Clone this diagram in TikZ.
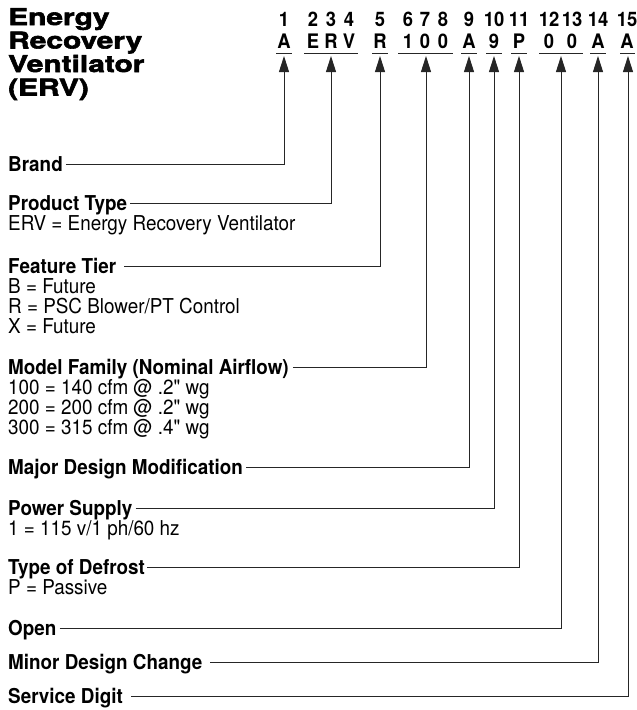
\documentclass[tikz,border=0pt]{standalone}
\usepackage{fontspec}
\setmainfont{TeX Gyre Heros}[Ligatures=TeXOff]
\newfontfamily\condfont[FakeStretch=0.92,Ligatures=TeXOff]{TeX Gyre Heros}
\newfontfamily\titlefont[FakeStretch=1.3,BoldFeatures={FakeBold=2.5}]{TeX Gyre Heros}
\usetikzlibrary{arrows.meta,calc}
\begin{document}
\begin{tikzpicture}[x=1pt,y=-1pt,
  lab/.style={anchor=base west, inner sep=0pt, font=\condfont\fontsize{20.5}{20}\selectfont\bfseries},
  sub/.style={anchor=base west, inner sep=0pt, font=\condfont\fontsize{20.5}{20}\selectfont},
  code/.style={anchor=base, inner sep=0pt, font=\condfont\fontsize{20}{20}\selectfont\bfseries},
  ttl/.style={anchor=base west, inner sep=0pt, font=\titlefont\fontsize{23}{23.5}\selectfont\bfseries},
  conn/.style={draw=black!85, line width=0.9pt, -{Triangle[length=16pt,width=10pt]}},
  uline/.style={draw=black!85, line width=0.9pt}]
\useasboundingbox (0,0) rectangle (637,710);
% title
\node[ttl] (title1) at (8,25) {Energy};
\node[ttl] (title2) at (8,48.5) {Recovery};
\node[ttl] (title3) at (8,72) {Ventilator};
\node[ttl] (title4) at (8,95.5) {(ERV)};
% digit positions
\foreach \x/\t [count=\i] in {284/1,313/2,331/3,349/4,380/5,408/6,425/7,443/8,469/9,494/10,519/11,549/12,572/13,598/14,627/15}
  \node[code] (d\i) at (\x,26) {\t};
% code letters
\foreach \x/\t [count=\i] in {284/A,313/E,331/R,349/V,380/R,408/1,425/0,443/0,469/A,494/9,519/P,549/0,572/0,598/A,627/A}
  \node[code] (c\i) at (\x,48) {\t};
% underlines
\foreach \a/\b in {276/292,304/358,372/388,398/453,461/477,486/502,511/527,539/583,590/606,620/635}
  \draw[uline] (\a,53.5) -- (\b,53.5);
% arrow tips
\foreach \n/\x in {1/284,2/331,3/380,4/426,5/469,6/494,7/519,8/561,9/598,10/628}
  \coordinate (t\n) at (\x,56);
% labels
\node[lab] (brand) at (8,171) {Brand};
\node[lab] (ptype) at (8,210) {Product Type};
\node[sub] (ptype1) at (8,230) {ERV = Energy Recovery Ventilator};
\node[lab] (tier) at (8,273) {Feature Tier};
\node[sub] (tier1) at (8,293) {B = Future};
\node[sub] (tier2) at (8,313) {R = PSC Blower/PT Control};
\node[sub] (tier3) at (8,333) {X = Future};
\node[lab] (model) at (8,374) {Model Family (Nominal Airflow)};
\node[sub] (model1) at (8,394) {100 = 140 cfm @ .2" wg};
\node[sub] (model2) at (8,414) {200 = 200 cfm @ .2" wg};
\node[sub] (model3) at (8,434) {300 = 315 cfm @ .4" wg};
\node[lab] (major) at (8,474) {Major Design Modification};
\node[lab] (power) at (8,515) {Power Supply};
\node[sub] (power1) at (8,535) {1 = 115 v/1 ph/60 hz};
\node[lab] (defrost) at (8,574) {Type of Defrost};
\node[sub] (defrost1) at (8,594) {P = Passive};
\node[lab] (open) at (8,635) {Open};
\node[lab] (minor) at (8,669) {Minor Design Change};
\node[lab] (service) at (8,703) {Service Digit};
% connectors
\draw[conn] ($(brand.base east)+(3,-7)$) -| (t1);
\draw[conn] ($(ptype.base east)+(3,-7)$) -| (t2);
\draw[conn] ($(tier.base east)+(8,-7)$) -| (t3);
\draw[conn] ($(model.base east)+(4,-7)$) -| (t4);
\draw[conn] ($(major.base east)+(3,-7)$) -| (t5);
\draw[conn] ($(power.base east)+(3,-7)$) -| (t6);
\draw[conn] ($(defrost.base east)+(2,-7)$) -| (t7);
\draw[conn] ($(open.base east)+(3,-7)$) -| (t8);
\draw[conn] ($(minor.base east)+(8,-7)$) -| (t9);
\draw[conn] ($(service.base east)+(8,-7)$) -| (t10);
\end{tikzpicture}
\end{document}
